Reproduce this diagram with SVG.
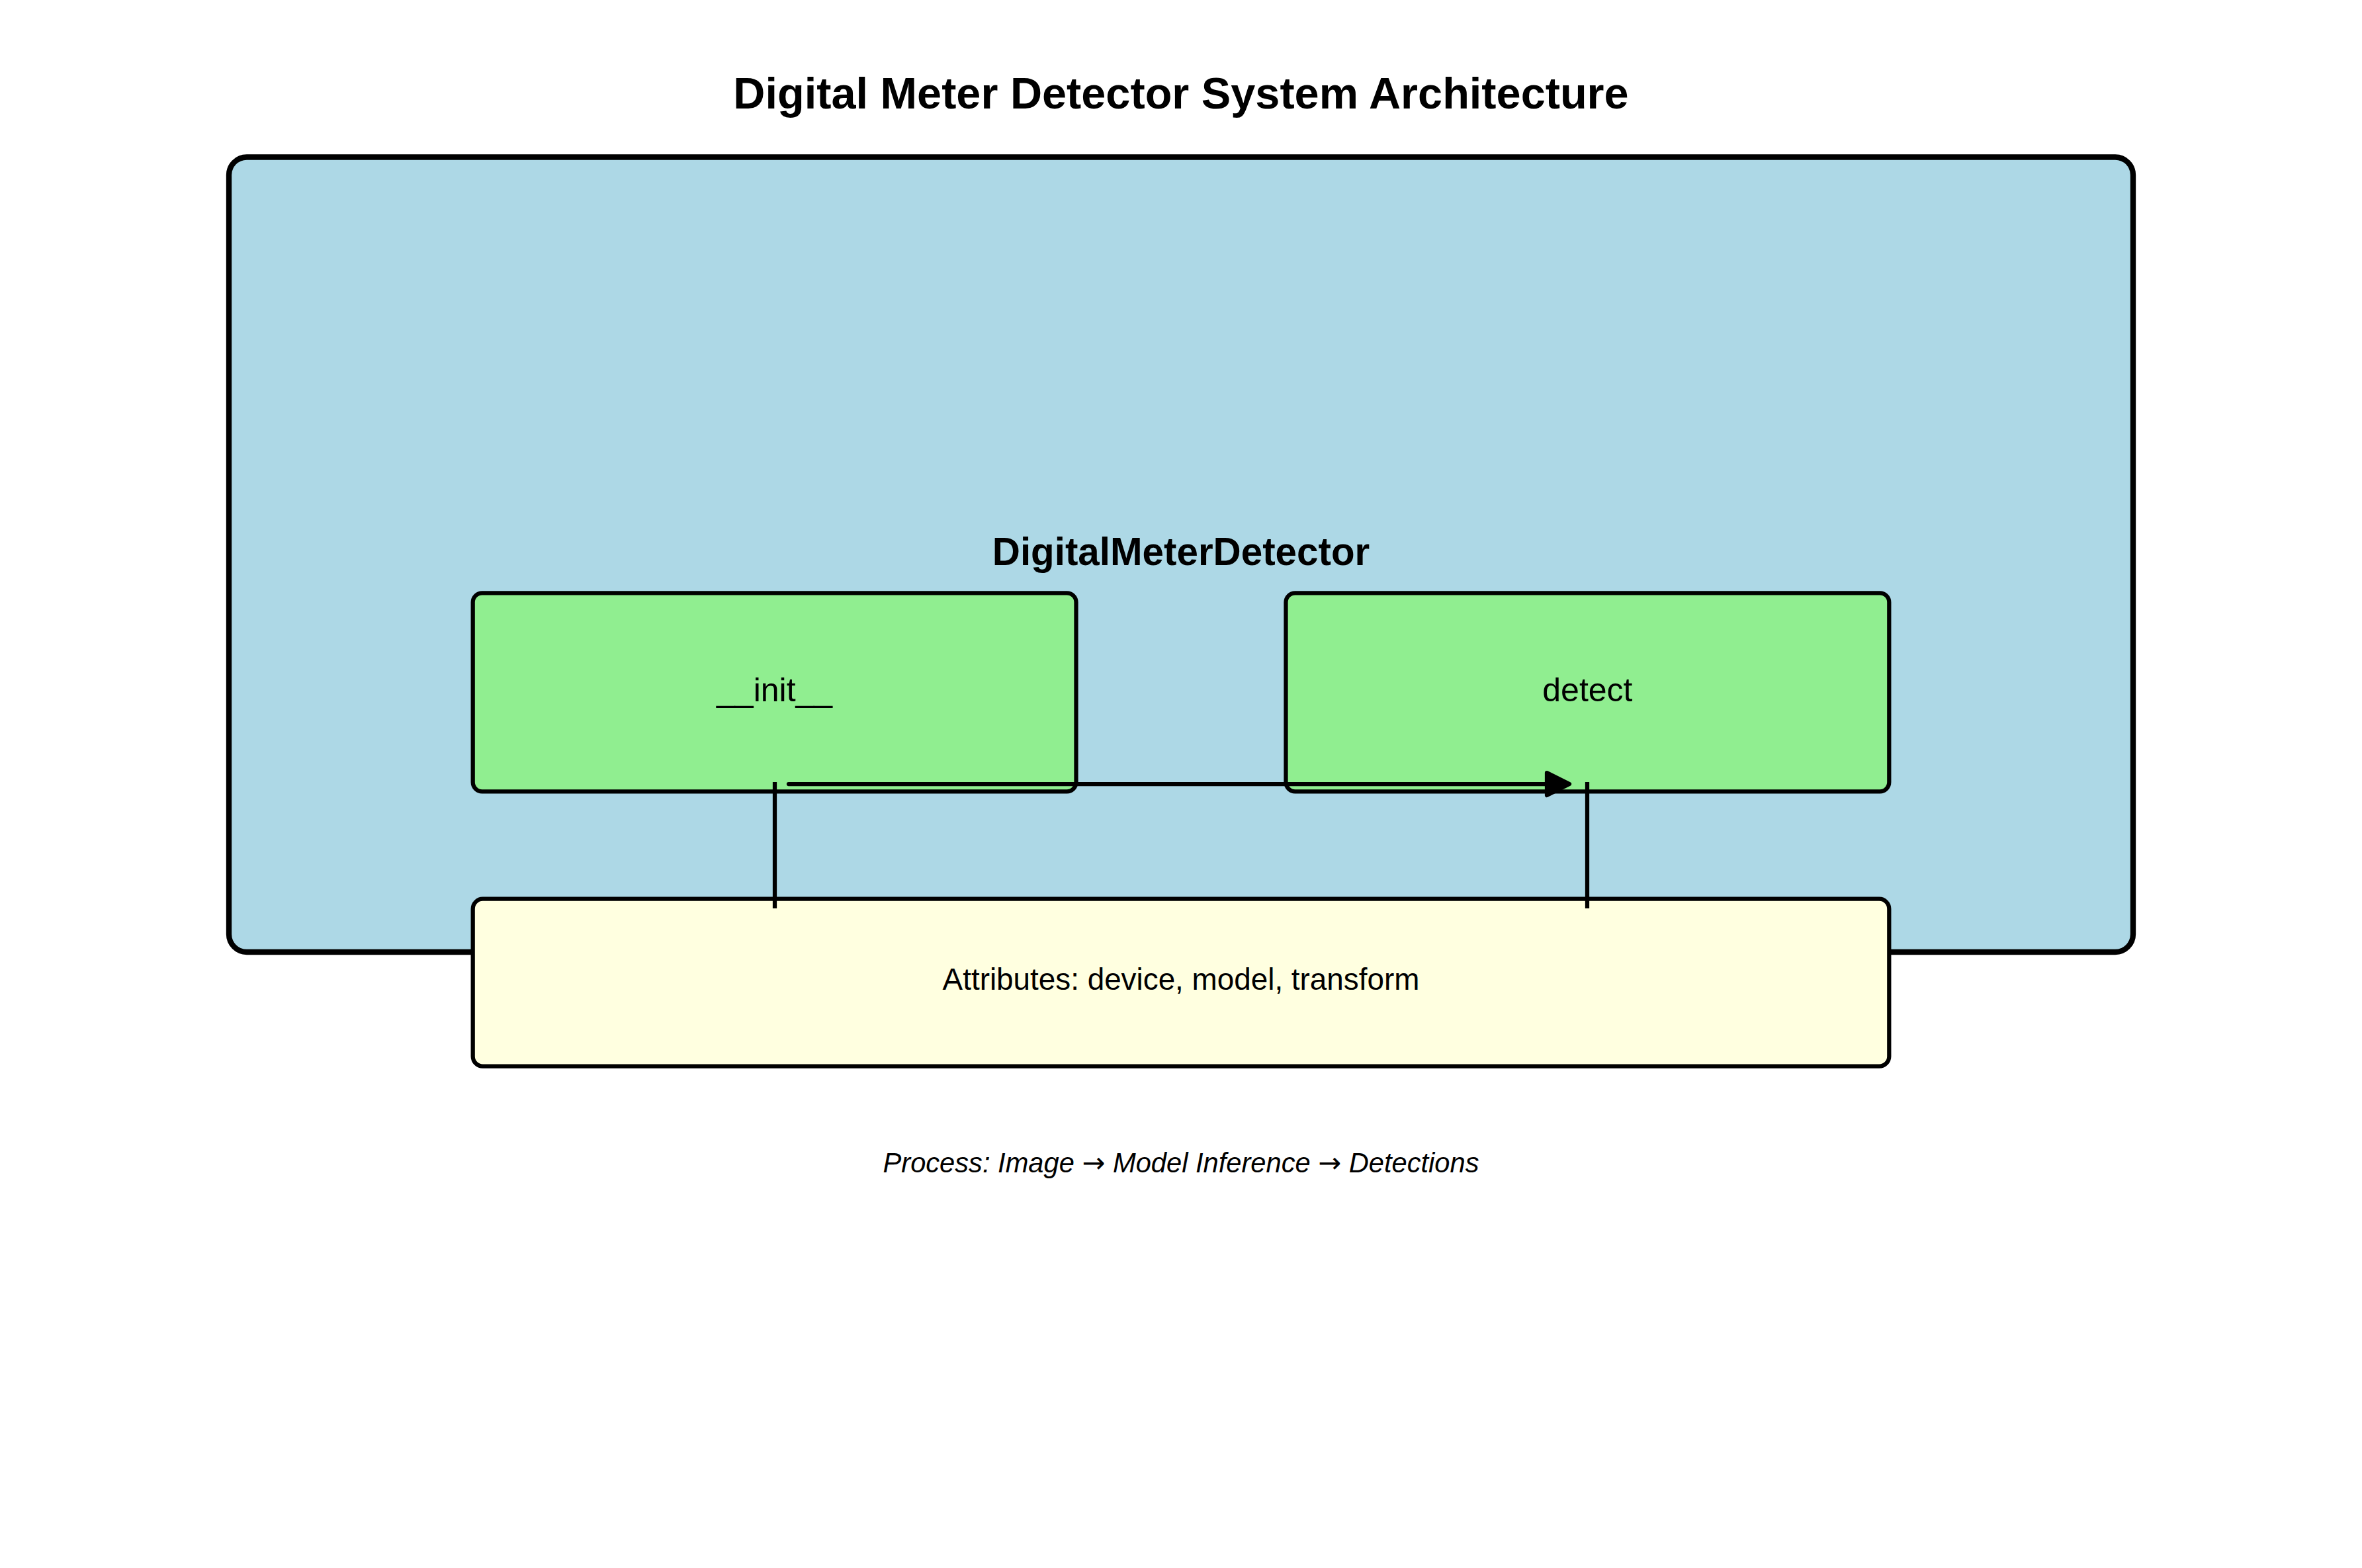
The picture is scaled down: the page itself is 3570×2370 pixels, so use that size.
<svg xmlns="http://www.w3.org/2000/svg" width="3570" height="2370" viewBox="0 0 3570 2370">
<style>
text{font-family:"Liberation Sans",Arial,sans-serif;fill:#000;text-anchor:middle}
.title{font-size:66.67px;font-weight:bold}
.cls{font-size:58.33px;font-weight:bold}
.meth{font-size:50px}
.attr{font-size:45.83px}
.note{font-size:41.67px;font-style:italic}
.arr{font-family:"DejaVu Sans",sans-serif}
.box{stroke:#000;stroke-width:6.25}
.line{stroke:#000;stroke-width:6.25;fill:none}
</style>
<rect width="3570" height="2370" fill="#fff"/>
<text class="title" x="1785" y="164">Digital Meter Detector System Architecture</text>
<g id="DigitalMeterDetector">
<rect x="346" y="237.5" width="2878" height="1201.5" rx="27" fill="#ADD8E6" stroke="#000" stroke-width="8.33"/>
<text class="cls" x="1785" y="854">DigitalMeterDetector</text>
</g>
<g id="init">
<rect class="box" x="714.7" y="896.3" width="911.8" height="300" rx="14" fill="#90EE90"/>
<text class="meth" x="1170.6" y="1060">__init__</text>
</g>
<g id="detect">
<rect class="box" x="1943.5" y="896.3" width="911.8" height="300" rx="14" fill="#90EE90"/>
<text class="meth" x="2399.4" y="1060">detect</text>
</g>
<g id="attributes">
<rect class="box" x="714.7" y="1358.7" width="2140.6" height="253" rx="15" fill="#FFFFE0"/>
<text class="attr" x="1785" y="1496">Attributes: device, model, transform</text>
</g>
<g id="connectors">
<line class="line" x1="1192" y1="1185" x2="2340" y2="1185" stroke-linecap="round"/>
<polygon points="2338,1168 2372,1185 2338,1202" fill="#000" stroke="#000" stroke-width="6.25" stroke-linejoin="round"/>
<line class="line" x1="1171" y1="1182" x2="1171" y2="1373"/>
<line class="line" x1="2399" y1="1182" x2="2399" y2="1373"/>
</g>
<text class="note" x="1785" y="1772">Process: Image <tspan class="arr">→</tspan> Model Inference <tspan class="arr">→</tspan> Detections</text>
</svg>
